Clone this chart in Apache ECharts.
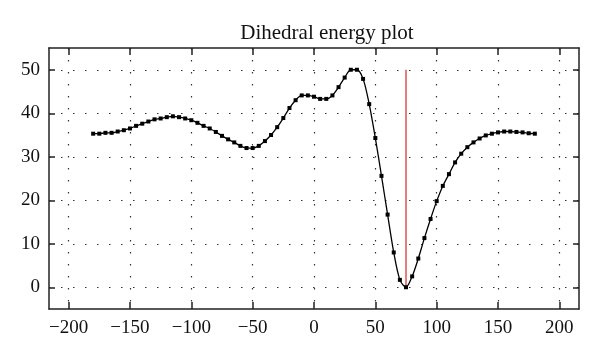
<!DOCTYPE html>
<html>
<head>
<meta charset="utf-8">
<script src="https://cdn.jsdelivr.net/npm/echarts@6/dist/echarts.min.js"></script>
<style>
  html, body { margin: 0; padding: 0; background: #fff; }
  #chart { width: 600px; height: 360px; }
</style>
</head>
<body>
<div id="chart"></div>
<script>
// dihedral angle (deg)
var angles = [
  -180, -175, -170, -165, -160, -155, -150, -145, -140, -135,
  -130, -125, -120, -115, -110, -105, -100, -95, -90, -85,
  -80, -75, -70, -65, -60, -55, -50, -45, -40, -35,
  -30, -25, -20, -15, -10, -5, 0, 5, 10, 15,
  20, 25, 30, 35, 40, 45, 50, 55, 60, 65,
  70, 75, 80, 85, 90, 95, 100, 105, 110, 115,
  120, 125, 130, 135, 140, 145, 150, 155, 160, 165,
  170, 175, 180
];
// energy
var energy = [
  35.3, 35.3, 35.5, 35.5, 35.8, 36.1, 36.5, 37.1, 37.6, 38.1,
  38.6, 38.8, 39.1, 39.3, 39.1, 38.8, 38.4, 37.8, 37.1, 36.5,
  35.7, 34.8, 34.0, 33.3, 32.5, 32.0, 32.0, 32.5, 33.6, 35.0,
  36.8, 38.9, 41.2, 43.0, 44.1, 44.1, 43.8, 43.3, 43.3, 44.1,
  46.0, 48.2, 50.0, 50.0, 47.9, 42.1, 34.3, 25.6, 16.7, 8.0,
  1.7, 0, 2.5, 6.6, 11.3, 15.7, 19.8, 23.3, 26.0, 28.7,
  30.7, 32.2, 33.3, 34.2, 34.9, 35.3, 35.6, 35.8, 35.8, 35.7,
  35.6, 35.4, 35.3
];
// marker line at the minimum
var markerX = [75, 75];
var markerY = [0, 50];

var xTicks = [-200, -150, -100, -50, 0, 50, 100, 150, 200];
var yTicks = [0, 10, 20, 30, 40, 50];

var font = 'Liberation Serif';
var frame = { show: true, onZero: false, lineStyle: { color: '#222', width: 1.5 } };
var dots = { show: true, lineStyle: { color: '#333', width: 1.2, type: [1.5, 10.5] } };

var chart = echarts.init(document.getElementById('chart'));
chart.setOption({
  animation: false,
  title: {
    text: 'Dihedral energy plot',
    left: 322,
    textAlign: 'center',
    top: 18,
    textStyle: { fontFamily: font, fontWeight: 'normal', fontSize: 21, color: '#111' }
  },
  grid: { left: 49, right: 21, top: 48, bottom: 51 },
  xAxis: [
    {
      type: 'value', min: -216, max: 216,
      axisLine: frame,
      axisTick: { show: true, inside: true, length: 7, customValues: xTicks, lineStyle: { color: '#222', width: 1.5 } },
      axisLabel: { customValues: xTicks, margin: 10, fontFamily: font, fontSize: 19, color: '#111',
        formatter: function (v) { return String(v).replace('-', '\u2212'); } },
      splitLine: dots
    },
    {
      type: 'value', position: 'top', min: -216, max: 216,
      axisLine: frame,
      axisTick: { show: true, inside: true, length: 7, customValues: xTicks, lineStyle: { color: '#222', width: 1.5 } },
      axisLabel: { show: false },
      splitLine: { show: false }
    }
  ],
  yAxis: [
    {
      type: 'value', min: -5, max: 55,
      axisLine: frame,
      axisTick: { show: true, inside: true, length: 6, customValues: yTicks, lineStyle: { color: '#222', width: 1.5 } },
      axisLabel: { customValues: yTicks, margin: 9, fontFamily: font, fontSize: 19, color: '#111' },
      splitLine: dots
    },
    {
      type: 'value', position: 'right', min: -5, max: 55,
      axisLine: frame,
      axisTick: { show: true, inside: true, length: 6, customValues: yTicks, lineStyle: { color: '#222', width: 1.5 } },
      axisLabel: { show: false },
      splitLine: { show: false }
    }
  ],
  series: [
    {
      type: 'line',
      data: angles.map(function (a, i) { return [a, energy[i]]; }),
      smooth: 0.3,
      symbol: 'rect',
      symbolSize: 4,
      itemStyle: { color: '#000' },
      lineStyle: { color: '#000', width: 1.3 }
    },
    {
      type: 'line',
      data: markerX.map(function (a, i) { return [a, markerY[i]]; }),
      symbol: 'none',
      lineStyle: { color: '#d42a2a', width: 1.2 },
      z: 1
    }
  ]
});
</script>
</body>
</html>
